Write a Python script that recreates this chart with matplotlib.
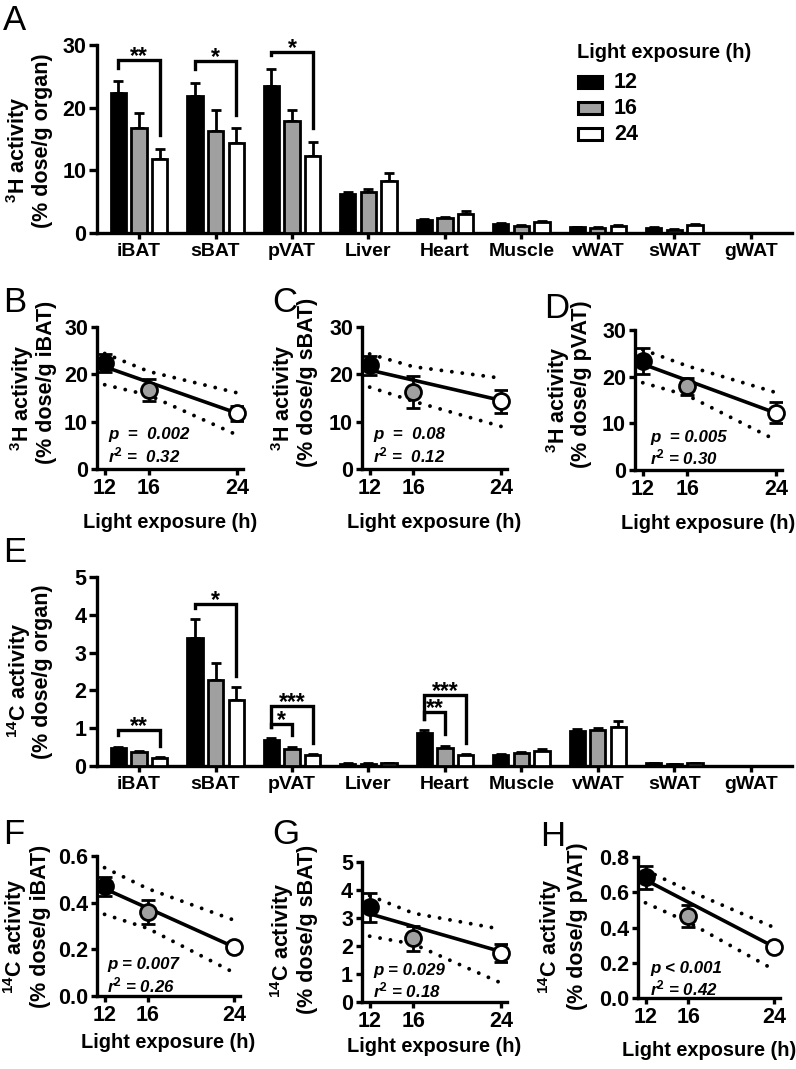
import matplotlib
matplotlib.use("Agg")
import matplotlib.pyplot as plt
from matplotlib.patches import Rectangle
import numpy as np

plt.rcParams["font.family"] = ["Liberation Sans", "DejaVu Sans"]
plt.rcParams["font.weight"] = "bold"
plt.rcParams["mathtext.fontset"] = "custom"
plt.rcParams["mathtext.rm"] = "Liberation Sans:bold"
plt.rcParams["mathtext.it"] = "Liberation Sans:bold:italic"
plt.rcParams["mathtext.bf"] = "Liberation Sans:bold"

# ---- data ----
organs = ["iBAT", "sBAT", "pVAT", "Liver", "Heart", "Muscle", "vWAT", "sWAT", "gWAT"]
hours = [12, 16, 24]
fills = ["black", "#a0a0a0", "white"]

# 3H activity (% dose/g organ), mean and SEM for 12 / 16 / 24 h light
h3_12 = [22.3, 21.9, 23.4, 6.2, 2.0, 1.5, 0.9, 0.8, 0.05]
h3_16 = [16.7, 16.2, 17.9, 6.6, 2.4, 1.1, 0.8, 0.5, 0.05]
h3_24 = [11.8, 14.3, 12.3, 8.3, 3.1, 1.7, 1.1, 1.2, 0.05]
h3_12_err = [1.9, 2.0, 2.8, 0.3, 0.2, 0.1, 0.1, 0.1, 0.0]
h3_16_err = [2.4, 3.4, 1.8, 0.4, 0.2, 0.1, 0.1, 0.1, 0.0]
h3_24_err = [1.6, 2.4, 2.3, 1.3, 0.4, 0.2, 0.2, 0.2, 0.0]

# 14C activity (% dose/g organ)
c14_12 = [0.47, 3.38, 0.68, 0.06, 0.87, 0.29, 0.92, 0.07, 0.0]
c14_16 = [0.36, 2.27, 0.46, 0.06, 0.48, 0.35, 0.94, 0.05, 0.0]
c14_24 = [0.21, 1.75, 0.28, 0.08, 0.29, 0.39, 1.04, 0.07, 0.0]
c14_12_err = [0.04, 0.51, 0.05, 0.01, 0.07, 0.02, 0.07, 0.01, 0.0]
c14_16_err = [0.05, 0.46, 0.05, 0.01, 0.06, 0.03, 0.06, 0.01, 0.0]
c14_24_err = [0.02, 0.33, 0.03, 0.01, 0.02, 0.06, 0.16, 0.01, 0.0]

# significance brackets: (organ index, bar from, bar to, bracket top, label)
h3_brackets = [(0, 0, 2, 27.6, "**"), (1, 0, 2, 27.4, "*"), (2, 0, 2, 28.9, "*")]
c14_brackets = [(0, 0, 2, 0.95, "**"), (1, 0, 2, 4.29, "*"),
                (2, 0, 2, 1.59, "***"), (2, 0, 1, 1.11, "*"),
                (4, 0, 2, 1.88, "***"), (4, 0, 1, 1.43, "**")]

# regressions: fitted line at 12 and 24 h, 95% band at 12 / 16 / 24 h
fit_x = [12, 24]
band_x = [12, 16, 24]
fit_B, up_B, lo_B = [21.6, 11.8], [24.4, 20.6, 16.1], [17.8, 15.6, 7.2]
fit_C, up_C, lo_C = [20.9, 14.5], [24.3, 21.6, 19.2], [17.3, 14.3, 9.0]
fit_D, up_D, lo_D = [22.7, 12.2], [25.8, 22.3, 16.6], [18.7, 16.0, 6.4]
fit_F, up_F, lo_F = [0.46, 0.21], [0.55, 0.46, 0.325], [0.35, 0.29, 0.10]
fit_G, up_G, lo_G = [3.15, 1.8], [3.8, 3.17, 2.6], [2.35, 2.07, 0.68]
fit_H, up_H, lo_H = [0.67, 0.29], [0.725, 0.61, 0.40], [0.54, 0.43, 0.16]

# scatter points for H (14C pVAT) read separately
h_pvat = [0.685, 0.465, 0.29]
h_pvat_err = [0.065, 0.06, 0.012]

W, H = 796, 1069
fig = plt.figure(figsize=(W / 100, H / 100), dpi=100)

LW = 2.4
NUM_FS = 15.5
CAT_FS = 14
LAB_FS = 14.4
YLAB_FS = 15.5


def px_axes(l, t, r, b):
    return fig.add_axes([l / W, 1 - b / H, (r - l) / W, (b - t) / H])


def style(ax):
    for s in ("top", "right"):
        ax.spines[s].set_visible(False)
    for s in ("left", "bottom"):
        ax.spines[s].set_linewidth(LW)
    ax.tick_params(width=LW, length=4.5, labelsize=NUM_FS, pad=2)


def bar_panel(ax, means, errs, ymax, yticks, brackets, gap):
    x = np.arange(len(organs))
    off = 0.27
    for k in range(3):
        xs = x + (k - 1) * off
        ax.bar(xs, means[k], width=0.2, color=fills[k], edgecolor="black",
               linewidth=2, zorder=3)
        ax.errorbar(xs, means[k], yerr=[np.zeros(len(x)), errs[k]], fmt="none",
                    ecolor="black", elinewidth=2, capsize=3.5, capthick=2, zorder=2)
    for gi, i, j, top, lab in brackets:
        x0, x1 = gi + (i - 1) * off, gi + (j - 1) * off
        y0 = means[i][gi] + errs[i][gi] + gap
        y1 = means[j][gi] + errs[j][gi] + gap
        ax.plot([x0, x0, x1, x1], [y0, top, top, y1], color="black", lw=LW,
                solid_joinstyle="miter", zorder=4, clip_on=False)
        ax.annotate(lab, xy=((x0 + x1) / 2, top), xytext=(0, -2.2),
                    textcoords="offset points", ha="center", va="baseline",
                    fontsize=16.5, zorder=4)
    ax.set_xlim(-0.55, 8.54)
    ax.set_ylim(0, ymax)
    ax.set_yticks(yticks)
    ax.set_xticks(x, organs)
    style(ax)
    ax.tick_params(axis="y", length=5.5)
    ax.tick_params(axis="x", length=4, pad=3, labelsize=CAT_FS)


def fit_panel(ax, means, errs, fit, up, lo, ymax, yticks, fmt):
    ax.plot(fit_x, fit, color="black", lw=2.6, zorder=3, solid_capstyle="butt")
    for band in (up, lo):
        ax.plot(band_x, band, color="black", lw=2.8, linestyle=(0, (0.01, 2.7)),
                dash_capstyle="round", zorder=2)
    for k in range(3):
        ax.errorbar(hours[k], means[k], yerr=errs[k], fmt="none", ecolor="black",
                    elinewidth=2, capsize=5, capthick=2, zorder=4)
        ax.plot(hours[k], means[k], "o", ms=11.5, mfc=fills[k], mec="black",
                mew=2, zorder=5, clip_on=False)
    ax.set_xlim(11.3, 24.55)
    ax.set_ylim(0, ymax)
    ax.set_xticks(hours)
    ax.set_yticks(yticks)
    ax.set_yticklabels([fmt.format(v) for v in yticks])
    style(ax)


def col(vals, idx):
    return [vals[k][idx] for k in range(3)]


h3 = [h3_12, h3_16, h3_24]
h3e = [h3_12_err, h3_16_err, h3_24_err]
c14 = [c14_12, c14_16, c14_24]
c14e = [c14_12_err, c14_16_err, c14_24_err]


def ftext(x, y, s, **kw):
    fig.text(x / W, 1 - y / H, s, **kw)


# ---- panel A ----
axA = px_axes(97, 45, 792, 233)
bar_panel(axA, h3, h3e, 30, [0, 10, 20, 30], h3_brackets, 2.2)

# legend, drawn by hand so rows line up with the reference
ftext(577, 53, "Light exposure (h)", ha="left", va="center", fontsize=LAB_FS)
for f, lab, y in zip(fills, ["12", "16", "24"], [82, 108, 134]):
    fig.patches.append(Rectangle((578 / W, 1 - (y + 6) / H), 24 / W, 12 / H,
                                 transform=fig.transFigure, facecolor=f,
                                 edgecolor="black", linewidth=2.2))
    ftext(614, y, lab, ha="left", va="center", fontsize=NUM_FS)

# ---- panels B, C, D ----
axB = px_axes(97, 327, 243, 469)
fit_panel(axB, col(h3, 0), col(h3e, 0), fit_B, up_B, lo_B, 30, [0, 10, 20, 30], "{:g}")
axC = px_axes(362, 327, 507, 469)
fit_panel(axC, col(h3, 1), col(h3e, 1), fit_C, up_C, lo_C, 30, [0, 10, 20, 30], "{:g}")
axD = px_axes(635, 330, 782, 470)
fit_panel(axD, col(h3, 2), col(h3e, 2), fit_D, up_D, lo_D, 30, [0, 10, 20, 30], "{:g}")

# ---- panel E ----
axE = px_axes(97, 577, 792, 766)
bar_panel(axE, c14, c14e, 5, [0, 1, 2, 3, 4, 5], c14_brackets, 0.3)

# ---- panels F, G, H ----
axF = px_axes(97, 856, 240, 996)
fit_panel(axF, col(c14, 0), col(c14e, 0), fit_F, up_F, lo_F, 0.6,
          [0, 0.2, 0.4, 0.6], "{:.1f}")
axG = px_axes(362, 862, 507, 1002)
fit_panel(axG, col(c14, 1), col(c14e, 1), fit_G, up_G, lo_G, 5,
          [0, 1, 2, 3, 4, 5], "{:g}")
axH = px_axes(638, 857, 780, 998)
fit_panel(axH, h_pvat, h_pvat_err, fit_H, up_H, lo_H, 0.8,
          [0, 0.2, 0.4, 0.6, 0.8], "{:.1f}")

# y labels, two lines placed separately (x1, y1, line1, x2, y2, line2)
ylabels = [
    (18, 150, "$^{3}$H activity", 43, 141, "(% dose/g organ)"),
    (22, 398, "$^{3}$H activity", 47, 382, "(% dose/g iBAT)"),
    (283, 398, "$^{3}$H activity", 307, 382, "(% dose/g sBAT)"),
    (558, 400, "$^{3}$H activity", 582, 384, "(% dose/g pVAT)"),
    (19, 680, "$^{14}$C activity", 43, 672, "(% dose/g organ)"),
    (15, 936, "$^{14}$C activity", 41, 926, "(% dose/g iBAT)"),
    (282, 940, "$^{14}$C activity", 307, 929, "(% dose/g sBAT)"),
    (550, 936, "$^{14}$C activity", 577, 926, "(% dose/g pVAT)"),
]
for x1, y1, s1, x2, y2, s2 in ylabels:
    ftext(x1, y1, s1, rotation=90, ha="center", va="center", fontsize=YLAB_FS)
    ftext(x2, y2, s2, rotation=90, ha="center", va="center", fontsize=YLAB_FS)

for x, y in [(170, 522), (434, 522), (708, 523), (168, 1042), (434, 1047), (709, 1050)]:
    ftext(x, y, "Light exposure (h)", ha="center", va="center", fontsize=LAB_FS)

# regression statistics
stats = [
    (108, 435, 455, "p  =  0.002", "r$^{2}$ =  0.32"),
    (373, 435, 455, "p  =  0.08", "r$^{2}$ =  0.12"),
    (650, 438, 457, "p  = 0.005", "r$^{2}$ = 0.30"),
    (107, 965, 985, "p = 0.007", "r$^{2}$ = 0.26"),
    (373, 970, 990, "p = 0.029", "r$^{2}$ = 0.18"),
    (650, 968, 988, "p < 0.001", "r$^{2}$ = 0.42"),
]
for x, y1, y2, s1, s2 in stats:
    ftext(x, y1, s1, ha="left", va="center", fontsize=12.2, style="italic")
    ftext(x, y2, s2, ha="left", va="center", fontsize=12.2, style="italic")

# panel letters
for x, y, s in [(3, 20, "A"), (3, 303, "B"), (272, 303, "C"), (544, 308, "D"),
                (3, 552, "E"), (3, 835, "F"), (272, 835, "G"), (540, 836, "H")]:
    ftext(x, y, s, ha="left", va="center", fontsize=25, fontweight="normal")

fig.savefig("out.png", dpi=100)
